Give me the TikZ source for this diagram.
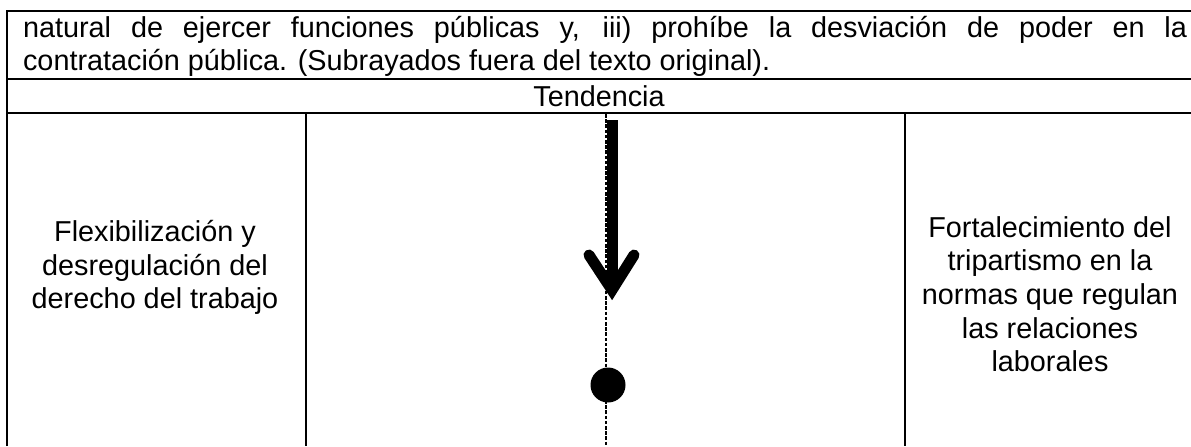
\documentclass[tikz,border=0pt]{standalone}
\usepackage{fontspec}
\setmainfont{Liberation Sans}
\usepackage{tikz}

\begin{document}
\begin{tikzpicture}[x=0.5pt,y=0.5pt]
\tikzstyle{every node}+=[inner sep=0pt, font=\fontsize{14.4}{16.8}\selectfont]
\tikzstyle{rule}=[line width=1.1pt]
\tikzstyle{thickarrow}=[line width=5.5pt]
\useasboundingbox (0,0) rectangle (1191,-446);
\draw [rule] (7,-446) -- (7,-11) -- (1196,-11);
\draw [rule] (7,-79) -- (1196,-79);
\draw [rule] (7,-113) -- (1196,-113);
\draw [rule] (306,-113) -- (306,-446);
\draw [rule] (905,-113) -- (905,-446);
\node [anchor=north west, text width=582pt, align=justify] (quote) at (22.7,-15.5) {natural de ejercer funciones públicas y, iii) prohíbe la desviación de poder en la\linebreak contratación pública. (Subrayados fuera del texto original).};
\node (trend) at (599,-96) {Tendencia};
\node [anchor=north, align=center] (flex) at (155,-220) {Flexibilización y\\desregulación del\\derecho del trabajo};
\node [anchor=north, align=center] (tri) at (1050,-216) {Fortalecimiento del\\tripartismo en la\\normas que regulan\\las relaciones\\laborales};
\coordinate (dtop) at (606,-114);
\coordinate (dbot) at (606,-446);
\draw [line width=0.65pt, dash pattern=on 1.8pt off 0.8pt] (dtop) -- (dbot);
\node [circle, fill=black, minimum size=17.5pt] (dot) at (608,-385) {};
\coordinate (shafttop) at (612,-120);
\coordinate (tip) at (612,-290);
\coordinate (barbl) at (589,-255);
\coordinate (barbr) at (634,-255);
\draw [thickarrow] (shafttop) -- (tip);
\draw [thickarrow, line cap=round, line join=miter] (barbl) -- (tip) -- (barbr);
\end{tikzpicture}
\end{document}
